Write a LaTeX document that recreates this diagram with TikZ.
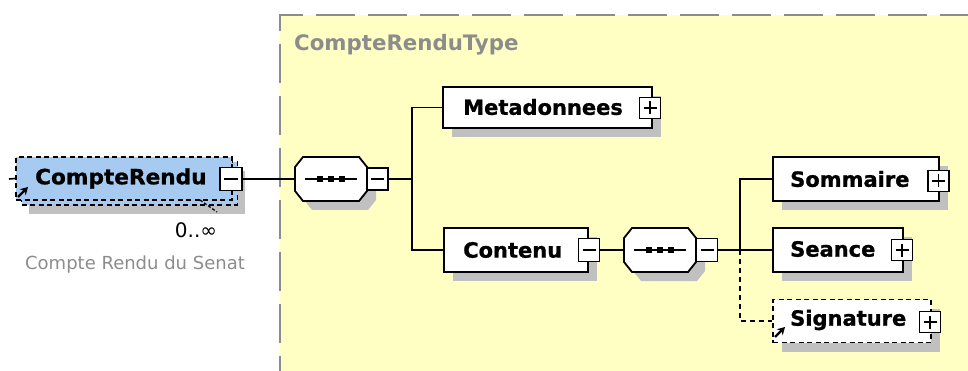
\documentclass[tikz,border=0pt]{standalone}
\usepackage{fontspec}
\setmainfont{DejaVu Sans}
\newfontfamily\elemfont[FakeBold=1]{DejaVu Sans Bold}
\usetikzlibrary{arrows.meta,calc,shadows}
\definecolor{schemaYellow}{HTML}{FFFFC4}
\definecolor{elemBlue}{HTML}{A6CAF0}
\definecolor{shadowGray}{HTML}{C0C0C0}
\definecolor{frameGray}{HTML}{8C8C8C}
\definecolor{noteGray}{HTML}{8C8C8C}
\begin{document}
\begin{tikzpicture}[x=1pt,y=-1pt,
  conn/.style={line width=1.6pt,black},
  dconn/.style={conn,dash pattern=on 5pt off 4pt},
  shad/.style={drop shadow={shadow xshift=9pt,shadow yshift=-9pt,fill=shadowGray,opacity=1}},
  elem/.style={draw=black,line width=1.8pt,fill=white,rectangle,inner sep=0pt,shad},
  optelem/.style={elem,dash pattern=on 5pt off 3.5pt},
  elabel/.style={anchor=west,inner sep=0pt,font=\fontsize{21}{25}\selectfont\elemfont},
  pmbox/.style={draw=black,line width=1.4pt,fill=white,minimum width=21pt,minimum height=21pt,inner sep=0pt},
  pmminus/.style={pmbox,path picture={\draw[line width=1.4pt] ($(path picture bounding box.west)+(4,0)$) -- ($(path picture bounding box.east)+(-4,0)$);}},
  pmplus/.style={pmbox,path picture={\draw[line width=1.4pt] ($(path picture bounding box.west)+(4,0)$) -- ($(path picture bounding box.east)+(-4,0)$) ($(path picture bounding box.north)+(0,4)$) -- ($(path picture bounding box.south)+(0,-4)$);}},
  refarrow/.style={line width=2.2pt,-{Stealth[length=7.5pt,width=8.5pt]}},
  seqanchor/.style={rectangle,minimum width=72pt,minimum height=44pt,inner sep=0pt},
  seqpic/.pic={
    \fill[shadowGray] (-28+9,-22+9) -- (28+9,-22+9) -- (36+9,-12+9) -- (36+9,12+9) -- (28+9,22+9) -- (-28+9,22+9) -- (-36+9,12+9) -- (-36+9,-12+9) -- cycle;
    \draw[line width=1.8pt,fill=white] (-28,-22) -- (28,-22) -- (36,-12) -- (36,12) -- (28,22) -- (-28,22) -- (-36,12) -- (-36,-12) -- cycle;
    \draw[line width=1.6pt] (-26,0) -- (26,0);
    \foreach \q in {-11,0,11} \fill (\q-3.2,-3.2) rectangle (\q+3.2,3.2);
  }
]
\useasboundingbox (0,0) rectangle (968,371);

% complex type frame
\fill[schemaYellow] (280,15) rectangle (1000,400);
\draw[draw=frameGray,line width=2pt,dash pattern=on 39pt off 13pt,dash phase=31pt] (1000,15) -- (280,15) -- (280,400);
\node[anchor=west,inner sep=0pt,text=frameGray,font=\fontsize{21.3}{25}\selectfont\bfseries] (typename) at (294,45) {CompteRenduType};

% root element (unbounded: stacked boxes)
\node[draw=black,line width=1.8pt,dash pattern=on 5pt off 3.5pt,fill=elemBlue,inner sep=0pt,minimum width=216pt,minimum height=43pt,drop shadow={shadow xshift=7pt,shadow yshift=-9pt,fill=shadowGray,opacity=1}] (crback) at (129.5,183.5) {};
\node[draw=black,line width=1.8pt,dash pattern=on 5pt off 3.5pt,fill=elemBlue,inner sep=0pt,minimum width=216pt,minimum height=43pt] (cr) at (124,178.5) {};
\node[elabel] (crT) at (35,178.5) {\scalebox{1.03}[1]{CompteRendu}};
\node[pmminus,minimum width=22pt,minimum height=23pt] (crm) at (231,179) {};
\draw[refarrow] (18,197) -- (28,187);
\draw[line width=1.3pt,dash pattern=on 3pt off 2pt] (200,200) -- (217,212);
\node[anchor=center,inner sep=0pt,font=\fontsize{20}{24}\selectfont] (crmult) at (196,230) {0..∞};
\node[anchor=center,inner sep=0pt,text=noteGray,font=\fontsize{18}{22}\selectfont] (crdoc) at (135,265) {Compte Rendu du Senat};
\coordinate (crin) at (9,179);

% first sequence
\pic at (331,179) {seqpic};
\node[seqanchor] (s1) at (331,179) {};
\node[pmminus,minimum height=22pt] (s1m) at (377.5,179) {};

% Metadonnees
\node[elem,minimum width=209pt,minimum height=41pt] (meta) at (547.5,107.5) {};
\node[elabel] (metaT) at (463,107) {Metadonnees};
\node[pmplus] (metap) at (650,108) {};

% Contenu
\node[elem,minimum width=144pt,minimum height=44pt] (cont) at (516,250) {};
\node[elabel] (contT) at (463,250) {Contenu};
\node[pmminus,minimum height=23pt] (contm) at (589,250) {};

% second sequence
\pic at (660,250) {seqpic};
\node[seqanchor] (s2) at (660,250) {};
\node[pmminus,minimum height=23pt] (s2m) at (707,250) {};

% Sommaire, Seance, Signature
\node[elem,minimum width=166pt,minimum height=44pt] (somm) at (856,179) {};
\node[elabel] (sommT) at (790,179) {Sommaire};
\node[pmplus] (sommp) at (938.5,181) {};

\node[elem,minimum width=130pt,minimum height=44pt] (sean) at (838,250) {};
\node[elabel] (seanT) at (790,249) {Seance};
\node[pmplus] (seanp) at (902,250) {};

\node[optelem,minimum width=158pt,minimum height=43pt] (sig) at (852,321) {};
\node[elabel] (sigT) at (790,320) {Signature};
\node[pmplus] (sigp) at (930,322) {};
\draw[refarrow] (775,337) -- (785,327);

% connectors
\coordinate (j1) at (412,179);
\coordinate (j2) at (740,250);
\draw[conn] (crin) -- (cr.west);
\draw[conn] (crm.east) -- (s1.west);
\draw[conn] (s1m.east) -- (j1);
\draw[conn] (meta.west) -| (j1) |- (cont.west);
\draw[conn] (contm.east) -- (s2.west);
\draw[conn] (s2m.east) -- (j2);
\draw[conn] (somm.west) -| (j2) -- (sean.west);
\draw[dconn] (j2) |- (sig.west);
\end{tikzpicture}
\end{document}
